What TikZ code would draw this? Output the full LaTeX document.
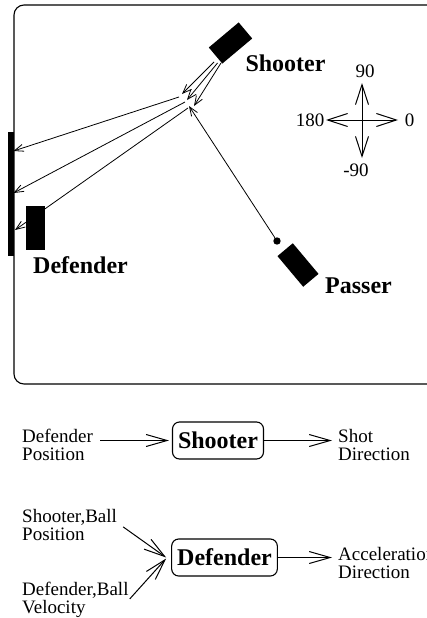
\documentclass[tikz,border=0pt]{standalone}
\usepackage{fontspec}
\setmainfont{Liberation Serif}
\usetikzlibrary{arrows.meta,calc}
\begin{document}
\begin{tikzpicture}[x=1pt,y=-1pt,
  thinline/.style={line width=0.8pt},
  smalltip/.style={thinline,-{Straight Barb[length=9pt,width=7pt]}},
  compasstip/.style={line width=1pt,-{Straight Barb[length=20pt,width=13pt]}},
  flowtip/.style={line width=1pt,-{Straight Barb[length=21pt,width=12pt]}},
  player/.style={fill=black, draw=none, inner sep=0pt},
  biglabel/.style={font=\fontsize{24}{24}\selectfont\bfseries, inner sep=0pt, anchor=base},
  numlabel/.style={font=\fontsize{19}{19}\selectfont, inner sep=0pt},
  smalltext/.style={font=\fontsize{19}{18}\selectfont, align=left, inner sep=0pt, anchor=north west},
  blockbox/.style={draw, rounded corners=7pt, line width=1.1pt, font=\fontsize{24}{24}\selectfont\bfseries, inner xsep=5.5pt, inner ysep=0pt, minimum height=37pt},
]
\useasboundingbox (0,0) rectangle (427,618);
% field
\draw[line width=1.1pt, rounded corners=10pt] (14,5) rectangle (470,384);
% goal
\fill (8,132) rectangle (14,256);
% players
\node[player, minimum width=39pt, minimum height=21pt, rotate=40] (shooter) at (230.5,43) {};
\node[player, minimum width=40pt, minimum height=20pt, rotate=-50] (passer) at (298,265) {};
\node[circle, fill=black, inner sep=0pt, minimum size=7.4pt] (ball) at (277,241) {};
% shot points
\coordinate (s1) at (214,62);
\coordinate (s2) at (217.5,63);
\coordinate (s3) at (221,63);
\coordinate (b1) at (182,94);
\coordinate (b2) at (187,100);
\coordinate (b3) at (194,106);
\coordinate (k1) at (179,97);
\coordinate (k2) at (185,102);
\coordinate (k3) at (188,108);
\coordinate (g1) at (13.5,151);
\coordinate (g2) at (13.5,193);
\coordinate (g3) at (15,230);
\coordinate (p) at (189,106);
\draw[smalltip] (s1) -- (b1);
\draw[smalltip] (s2) -- (b2);
\draw[smalltip] (s3) -- (b3);
\draw[smalltip] (k1) -- (g1);
\draw[smalltip] (k2) -- (g2);
\draw[smalltip] (k3) -- (g3);
\draw[smalltip] (ball) -- (p);
\node[player, minimum width=19pt, minimum height=44pt] (defender) at (35.5,228) {};
% labels
\node[biglabel] (shooterlbl) at (285.5,71) {Shooter};
\node[biglabel] (defenderlbl) at (80.5,273) {Defender};
\node[biglabel] (passerlbl) at (358.5,293) {Passer};
% compass
\coordinate (cc) at (362,120);
\coordinate (ce) at (398,120);
\coordinate (cw) at (326,120);
\coordinate (cn) at (362,83);
\coordinate (cs) at (362,158);
\draw[compasstip] (cc) -- (ce);
\draw[compasstip] (cc) -- (cw);
\draw[compasstip] (cc) -- (cn);
\draw[compasstip] (cc) -- (cs);
\node[numlabel] (n90) at (365,71.5) {90};
\node[numlabel] (n0) at (409.5,120) {0};
\node[numlabel] (n180) at (310,120) {180};
\node[numlabel] (nm90) at (356,170) {-90};
% block diagrams
\node[blockbox] (shooterbox) at (218,440.5) {Shooter};
\node[blockbox] (defenderbox) at (224.5,557.5) {Defender};
\node[smalltext] (dpos) at (22,429) {Defender\\Position};
\node[smalltext] (shotdir) at (338,429) {Shot\\Direction};
\node[smalltext] (sbpos) at (22,509) {Shooter,Ball\\Position};
\node[smalltext] (dbvel) at (22,582) {Defender,Ball\\Velocity};
\node[smalltext] (accdir) at (338,547) {Acceleration\\Direction};
\draw[flowtip, shorten <=7pt, shorten >=3pt] (dpos.east |- shooterbox.west) -- (shooterbox.west);
\draw[flowtip, shorten >=6pt] (shooterbox.east) -- (shotdir.west |- shooterbox.east);
\draw[flowtip] ($(sbpos.east)+(6,2)$) -- ($(defenderbox.west)+(-5,0)$);
\draw[flowtip] ($(dbvel.east)+(1,-1)$) -- ($(defenderbox.west)+(-5,1)$);
\draw[flowtip, shorten >=6pt] (defenderbox.east) -- (accdir.west |- defenderbox.east);
\end{tikzpicture}
\end{document}
